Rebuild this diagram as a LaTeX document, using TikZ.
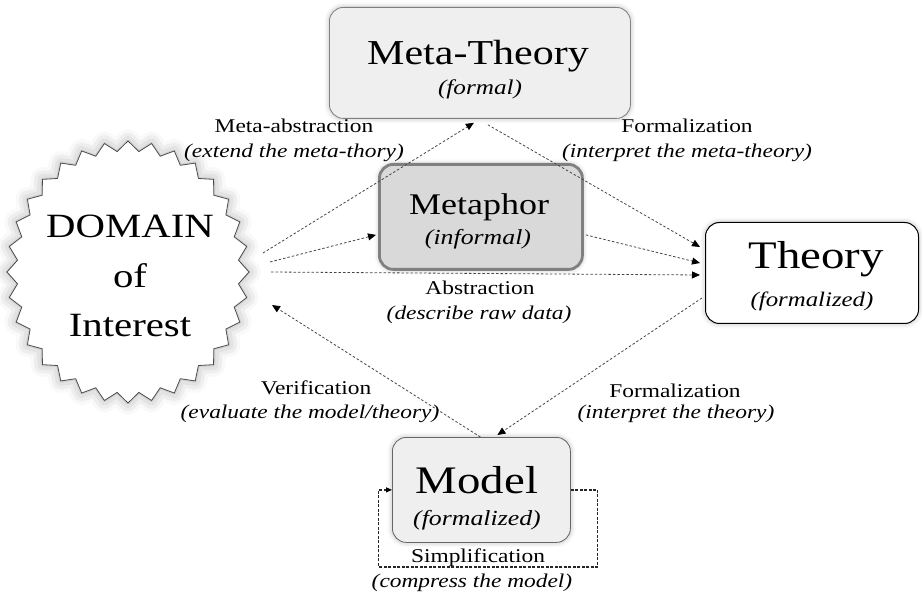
\documentclass[tikz,border=0pt]{standalone}
\usepackage{fontspec}
\setmainfont[FakeStretch=1.2]{Liberation Serif}
\usetikzlibrary{arrows.meta,shadows.blur}
\definecolor{boxgray}{HTML}{EFEFEF}
\definecolor{metagray}{HTML}{D9D9D9}
\definecolor{edgegray}{HTML}{808080}
\definecolor{arrowgray}{HTML}{454545}
\begin{document}
\begin{tikzpicture}[x=1pt,y=-1pt,
  glow/.style={blur shadow={shadow xshift=0pt,shadow yshift=0pt,shadow blur radius=5pt,shadow opacity=30}},
  boxbase/.style={rounded corners=14pt, inner sep=0pt, anchor=north west, glow},
  metabox/.style={boxbase, draw=edgegray, line width=0.8pt, fill=boxgray},
  phorbox/.style={boxbase, draw=edgegray, line width=2.8pt, fill=metagray},
  theobox/.style={boxbase, draw=black, line width=1pt, fill=white},
  modbox/.style={boxbase, draw=edgegray!80!black, line width=0.8pt, fill=boxgray},
  txt/.style={anchor=base, inner sep=0pt},
  lbl/.style={txt, font=\fontsize{19.5}{22}\selectfont},
  ilbl/.style={txt, font=\fontsize{19.5}{22}\selectfont\itshape},
  arr/.style={draw=arrowgray, line width=0.8pt, dash pattern=on 2.5pt off 2pt,
     -{Triangle[length=8pt,width=7pt,color=black]}},
  loopline/.style={draw=black!85, line width=1.2pt, dash pattern=on 3pt off 1.5pt,
     -{Triangle[length=6pt,width=5pt,color=black]}}
]
\useasboundingbox (0,0) rectangle (922,596);

% Domain starburst
\filldraw[fill=white, draw=black!70, line width=0.8pt,
  blur shadow={shadow xshift=0pt,shadow yshift=0pt,shadow blur radius=12pt,shadow opacity=35}]
  plot[variable=\t, samples at={0,...,63}]
  ({128+(121-10*mod(\t,2))*cos(\t*5.625)}, {272+(131-10*mod(\t,2))*sin(\t*5.625)}) -- cycle;
\coordinate (dom) at (128,272);
\node[txt, font=\fontsize{34}{40}\selectfont] (domA) at (130,238) {DOMAIN};
\node[txt, font=\fontsize{34}{40}\selectfont] (domB) at (130,288) {of};
\node[txt, font=\fontsize{34}{40}\selectfont] (domC) at (130,337) {Interest};

% Boxes
\node[metabox, minimum width=301pt, minimum height=111pt] (mt) at (329,7) {};
\node[txt, font=\fontsize{35}{40}\selectfont] (mtA) at (478,65) {Meta-Theory};
\node[txt, font=\fontsize{21}{24}\selectfont\itshape] (mtB) at (480,95) {(formal)};

\node[phorbox, minimum width=203pt, minimum height=105pt] (mp) at (378,163) {};
\node[txt, font=\fontsize{30}{34}\selectfont] (mpA) at (479,215) {Metaphor};
\node[txt, font=\fontsize{21.5}{24}\selectfont\itshape] (mpB) at (478,245) {(informal)};

\node[theobox, minimum width=213pt, minimum height=101pt] (th) at (705,222) {};
\node[txt, font=\fontsize{39}{44}\selectfont] (thA) at (816,269) {Theory};
\node[txt, font=\fontsize{20.7}{24}\selectfont\itshape] (thB) at (812,307) {(formalized)};

\node[modbox, minimum width=178pt, minimum height=105pt] (md) at (392,437) {};
\node[txt, font=\fontsize{39}{44}\selectfont] (mdA) at (477,493) {Model};
\node[txt, font=\fontsize{21.5}{24}\selectfont\itshape] (mdB) at (477,525) {(formalized)};

% Connectors
\draw[arr] ([xshift=135pt,yshift=19pt]dom) -- ([xshift=-6pt,yshift=-4pt]mt.south);
\draw[arr] ([xshift=142pt,yshift=10pt]dom) -- ([xshift=-2pt,yshift=-18pt]mp.west);
\draw[arr] ([xshift=143pt]dom) -- ([xshift=-5pt,yshift=-2pt]th.west);
\draw[arr] ([xshift=8pt,yshift=-6pt]mt.south) -- ([xshift=-5pt,yshift=26pt]th.west);
\draw[arr] ([xshift=2pt,yshift=-18pt]mp.east) -- ([xshift=-5pt,yshift=10pt]th.west);
\draw[arr] ([xshift=-3pt,yshift=-25pt]th.west) -- ([xshift=16pt,yshift=2pt]md.north);
\draw[arr] ([xshift=-1pt]md.north) -- ([xshift=144pt,yshift=-33pt]dom);
\draw[loopline] (md.east) -- ++(27,0) -- ++(0,77) -- ++(-219,0) -- ++(0,-77) -- (md.west);

% Labels
\node[lbl] (l1a) at (294,133) {Meta-abstraction};
\node[ilbl] (l1b) at (294,158) {(extend the meta-thory)};
\node[lbl] (l2a) at (687,133) {Formalization};
\node[ilbl] (l2b) at (687,158) {(interpret the meta-theory)};
\node[lbl] (l3a) at (480,295) {Abstraction};
\node[ilbl] (l3b) at (479,320) {(describe raw data)};
\node[lbl] (l4a) at (316,395) {Verification};
\node[ilbl] (l4b) at (310,418) {(evaluate the model/theory)};
\node[lbl] (l5a) at (675,397) {Formalization};
\node[ilbl] (l5b) at (676,418) {(interpret the theory)};
\node[lbl] (l6a) at (478,562) {Simplification};
\node[ilbl] (l6b) at (472,587) {(compress the model)};
\end{tikzpicture}
\end{document}
